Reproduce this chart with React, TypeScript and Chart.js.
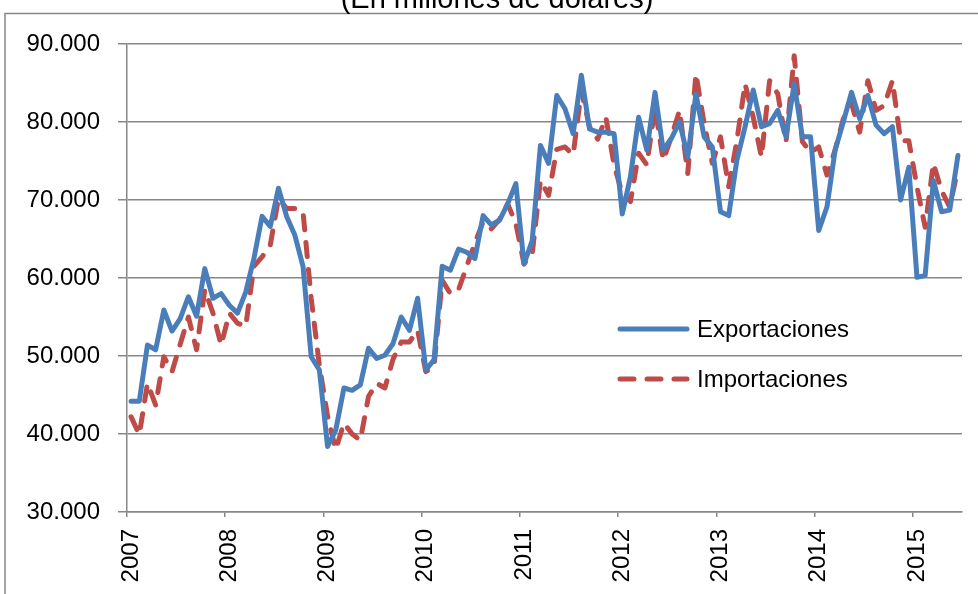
import React, { useEffect, useRef } from 'react';
import { Chart, registerables } from 'chart.js';

Chart.register(...registerables);

// ---- Data ----
const yearLabels = ['2007', '2008', '2009', '2010', '2011', '2012', '2013', '2014', '2015'];
const monthNames = ['ene', 'feb', 'mar', 'abr', 'may', 'jun', 'jul', 'ago', 'sep', 'oct', 'nov', 'dic'];
// Monthly categories: Jan 2007 .. Jun 2015
const categories: string[] = [];
yearLabels.forEach((y) => monthNames.forEach((m) => categories.push(`${m}-${y}`)));
categories.length = 102;

// Millions of US dollars
const exportaciones = [
  44200, 44200, 51400, 50800, 55900, 53200, 54800, 57600, 55100, 61200, 57400, 58000,
  56500, 55500, 58200, 62500, 67900, 66600, 71500, 67900, 65500, 61500, 49900, 48200,
  38400, 40500, 45900, 45600, 46300, 51000, 49700, 50100, 51600, 55000, 53300, 57400,
  48200, 49500, 61500, 61000, 63700, 63300, 62500, 68000, 66800, 67400, 69500, 72100,
  61800, 64800, 77000, 74700, 83400, 81700, 78500, 86000, 79100, 78700, 78700, 78500,
  68200, 73000, 80600, 76400, 83800, 76400, 77900, 80000, 75500, 83600, 78100, 76800,
  68500, 68000, 75100, 79400, 84100, 79400, 79800, 81500, 78100, 84900, 78100, 78100,
  66100, 69100, 76400, 80000, 83800, 80400, 83400, 79600, 78500, 79400, 70000, 74200,
  60100, 60300, 72500, 68500, 68700, 75700,
];

const importaciones = [
  42200, 39900, 46500, 43700, 49900, 48000, 51500, 55000, 50800, 58500, 55500, 51400,
  55500, 54200, 53800, 61500, 62700, 64200, 70200, 68900, 68900, 68500, 57400, 48800,
  42300, 38000, 41400, 40000, 39200, 44800, 46500, 45900, 49600, 51800, 51800, 53300,
  48000, 48600, 59700, 58000, 58500, 61500, 64500, 67200, 66300, 67500, 69500, 67000,
  61800, 63100, 72500, 70600, 76500, 76800, 75800, 84000, 79400, 77800, 80600, 74500,
  70800, 69800, 76000, 74500, 81900, 75100, 78100, 81500, 73400, 86200, 79800, 74700,
  78100, 71700, 77600, 84900, 80600, 75500, 85300, 83600, 77400, 88500, 77500, 76100,
  76800, 73200, 76400, 80400, 82400, 78700, 85300, 81500, 82100, 85300, 77600, 77600,
  71700, 66500, 74700, 71200, 69100, 74000,
];

const yTicks = [30000, 40000, 50000, 60000, 70000, 80000, 90000];
const yTickLabels = ['30.000', '40.000', '50.000', '60.000', '70.000', '80.000', '90.000'];
const titleText = '(En millones de dólares)';

// ---- Styles ----
const FONT = '"Liberation Sans", Arial, sans-serif';
const GRID = '#878787';
const BLUE = '#4a7ebb';
const RED = '#be4b48';

const framePlugin = {
  id: 'frame',
  beforeDraw(chart: any) {
    const ctx = chart.ctx;
    ctx.save();
    ctx.strokeStyle = GRID;
    ctx.lineWidth = 1.5;
    ctx.beginPath();
    ctx.moveTo(5, chart.height);
    ctx.lineTo(5, 13.5);
    ctx.lineTo(chart.width, 13.5);
    ctx.stroke();
    ctx.fillStyle = '#000';
    ctx.font = `29px ${FONT}`;
    ctx.textAlign = 'center';
    ctx.textBaseline = 'alphabetic';
    ctx.fillText(titleText, 497, 8);
    ctx.restore();
  },
};

const legendPlugin = {
  id: 'innerLegend',
  afterDraw(chart: any) {
    const ctx = chart.ctx;
    const rows = [329, 379];
    chart.data.datasets.forEach((ds: any, i: number) => {
      const y = rows[i];
      ctx.save();
      ctx.strokeStyle = ds.borderColor;
      ctx.lineWidth = ds.borderWidth;
      ctx.lineCap = 'round';
      ctx.setLineDash(ds.borderDash || []);
      ctx.beginPath();
      ctx.moveTo(620, y);
      ctx.lineTo(687, y);
      ctx.stroke();
      ctx.setLineDash([]);
      ctx.fillStyle = '#000';
      ctx.font = `24px ${FONT}`;
      ctx.textAlign = 'left';
      ctx.textBaseline = 'middle';
      ctx.fillText(ds.label, 697, y + 1);
      ctx.restore();
    });
  },
};

export default function App() {
  const ref = useRef<HTMLCanvasElement | null>(null);

  useEffect(() => {
    document.body.style.margin = '0';
    const canvas = ref.current;
    if (!canvas) return;
    const chart = new Chart(canvas, {
      type: 'line',
      data: {
        labels: categories,
        datasets: [
          {
            label: 'Exportaciones',
            data: exportaciones,
            borderColor: BLUE,
            backgroundColor: BLUE,
            borderWidth: 5,
            pointRadius: 0,
            tension: 0,
            fill: false,
            borderJoinStyle: 'round',
            borderCapStyle: 'round',
          },
          {
            label: 'Importaciones',
            data: importaciones,
            borderColor: RED,
            backgroundColor: RED,
            borderWidth: 5,
            borderDash: [14, 13],
            pointRadius: 0,
            tension: 0,
            fill: false,
            borderJoinStyle: 'round',
            borderCapStyle: 'round',
          },
        ],
      },
      options: {
        animation: false,
        responsive: false,
        events: [],
        layout: { padding: { left: 0, top: 44, right: 16, bottom: 0 } },
        plugins: {
          legend: { display: false },
          title: { display: false },
          tooltip: { enabled: false },
        },
        scales: {
          x: {
            type: 'category',
            offset: true,
            grid: {
              offset: true,
              drawOnChartArea: false,
              drawTicks: true,
              tickLength: 5,
              lineWidth: 1.5,
              color: (c: any) => (c.index % 12 === 0 ? GRID : 'rgba(0,0,0,0)'),
            },
            border: { display: true, color: GRID, width: 1.5 },
            ticks: {
              autoSkip: false,
              minRotation: 90,
              maxRotation: 90,
              padding: 12,
              color: '#000',
              font: { family: FONT, size: 24 },
              callback: (_v: any, i: number) => (i % 12 === 0 ? yearLabels[i / 12] : ''),
            },
            afterFit: (s: any) => {
              s.height = 82;
              s.paddingLeft = 0;
              s.paddingRight = 0;
            },
          },
          y: {
            min: 30000,
            max: 90000,
            grid: { color: GRID, lineWidth: 1.5, tickLength: 9 },
            border: { display: true, color: GRID, width: 1.5 },
            ticks: {
              stepSize: 10000,
              padding: 18,
              color: '#000',
              font: { family: FONT, size: 24 },
              callback: (v: any) => {
                const k = yTicks.indexOf(Number(v));
                return k >= 0 ? yTickLabels[k] : '';
              },
            },
            afterFit: (s: any) => {
              s.width = 127;
              s.paddingTop = 0;
              s.paddingBottom = 0;
            },
          },
        },
      } as any,
      plugins: [framePlugin, legendPlugin],
    });
    return () => chart.destroy();
  }, []);

  return (
    <div style={{ position: 'fixed', left: 0, top: 0, width: 978, height: 594, background: '#fff' }}>
      <canvas ref={ref} width={978} height={594} style={{ display: 'block' }} />
    </div>
  );
}
